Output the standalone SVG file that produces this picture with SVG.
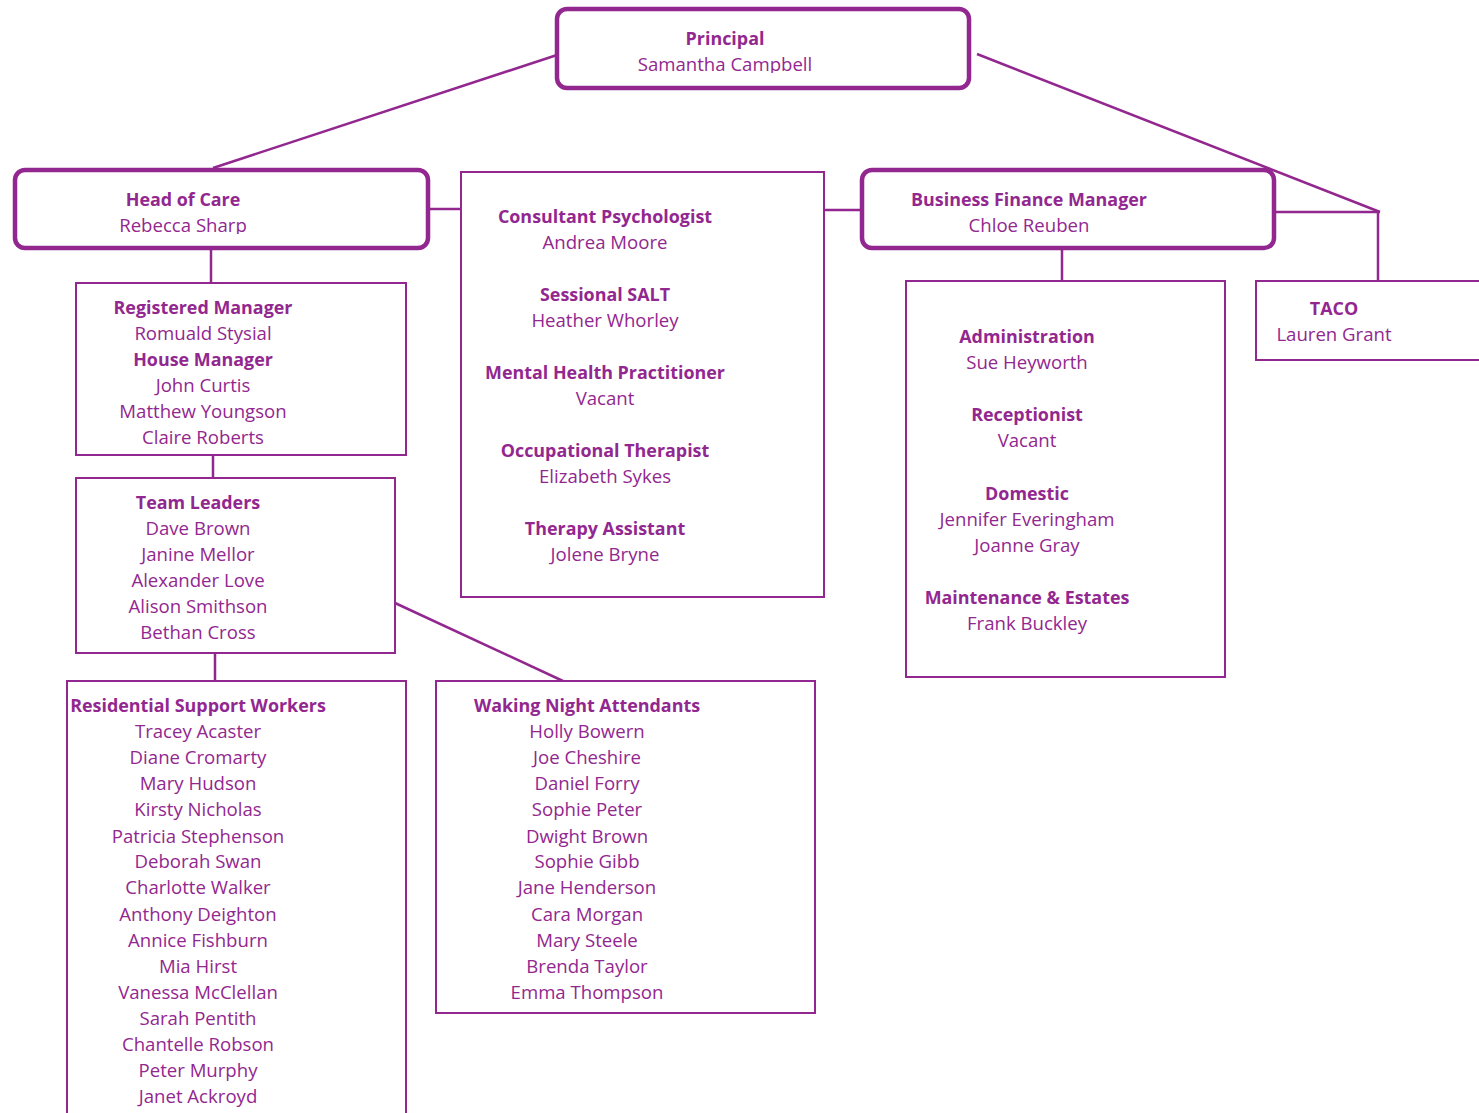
<svg xmlns="http://www.w3.org/2000/svg" width="1479" height="1113" viewBox="0 0 1479 1113">
<style>
.t{font-family:"Open Sans","DejaVu Sans",sans-serif;font-size:18.6px;fill:#92278F;text-anchor:middle}
.b{font-weight:bold;font-size:17.9px}
.thick{fill:#fff;stroke:#92278F;stroke-width:4.5}
.thin{fill:#fff;stroke:#92278F;stroke-width:2}
.c{stroke:#92278F;stroke-width:2.5;fill:none}
</style>
<defs>
<clipPath id="cp1"><rect x="557" y="0" width="412" height="73"/></clipPath>
<clipPath id="cp2"><rect x="15" y="160" width="413" height="74"/></clipPath>
</defs>
<rect width="1479" height="1113" fill="#fff"/>
<g id="connectors">
<line class="c" x1="557" y1="55" x2="213" y2="168"/>
<polyline class="c" points="977,54 1380,212"/>
<line class="c" x1="1274" y1="212" x2="1380" y2="212"/>
<line class="c" x1="1378" y1="212" x2="1378" y2="281"/>
<line class="c" x1="428" y1="209" x2="461" y2="209"/>
<line class="c" x1="824" y1="210" x2="862" y2="210"/>
<line class="c" x1="211" y1="248" x2="211" y2="283"/>
<line class="c" x1="213" y1="455" x2="213" y2="478"/>
<line class="c" x1="215" y1="653" x2="215" y2="681"/>
<line class="c" x1="395" y1="603" x2="563" y2="681"/>
<line class="c" x1="1062" y1="248" x2="1062" y2="281"/>
</g>
<g id="principal">
<rect class="thick" x="557" y="9" width="412" height="79" rx="10"/>
<g clip-path="url(#cp1)">
<text class="t b" x="725" y="45">Principal</text>
<text class="t" x="725" y="71">Samantha Campbell</text>
</g>
</g>
<g id="head-of-care">
<rect class="thick" x="15" y="170" width="413" height="78" rx="10"/>
<g clip-path="url(#cp2)">
<text class="t b" x="183" y="206">Head of Care</text>
<text class="t" x="183" y="232">Rebecca Sharp</text>
</g>
</g>
<g id="business-finance-manager">
<rect class="thick" x="862" y="170" width="412" height="78" rx="10"/>
<text class="t b" x="1029" y="206">Business Finance Manager</text>
<text class="t" x="1029" y="232">Chloe Reuben</text>
</g>
<g id="therapy">
<rect class="thin" x="461" y="172" width="363" height="425"/>
<text class="t b" x="605" y="223">Consultant Psychologist</text>
<text class="t" x="605" y="249">Andrea Moore</text>
<text class="t b" x="605" y="301">Sessional SALT</text>
<text class="t" x="605" y="327">Heather Whorley</text>
<text class="t b" x="605" y="379">Mental Health Practitioner</text>
<text class="t" x="605" y="405">Vacant</text>
<text class="t b" x="605" y="457">Occupational Therapist</text>
<text class="t" x="605" y="483">Elizabeth Sykes</text>
<text class="t b" x="605" y="535">Therapy Assistant</text>
<text class="t" x="605" y="561">Jolene Bryne</text>
</g>
<g id="registered-manager">
<rect class="thin" x="76" y="283" width="330" height="172"/>
<text class="t b" x="203" y="314">Registered Manager</text>
<text class="t" x="203" y="340">Romuald Stysial</text>
<text class="t b" x="203" y="366">House Manager</text>
<text class="t" x="203" y="392">John Curtis</text>
<text class="t" x="203" y="418">Matthew Youngson</text>
<text class="t" x="203" y="444">Claire Roberts</text>
</g>
<g id="team-leaders">
<rect class="thin" x="76" y="478" width="319" height="175"/>
<text class="t b" x="198" y="509">Team Leaders</text>
<text class="t" x="198" y="535">Dave Brown</text>
<text class="t" x="198" y="561">Janine Mellor</text>
<text class="t" x="198" y="587">Alexander Love</text>
<text class="t" x="198" y="613">Alison Smithson</text>
<text class="t" x="198" y="639">Bethan Cross</text>
</g>
<g id="residential-support-workers">
<rect class="thin" x="67" y="681" width="339" height="440"/>
<text class="t b" x="198" y="712">Residential Support Workers</text>
<text class="t" x="198" y="738">Tracey Acaster</text>
<text class="t" x="198" y="764">Diane Cromarty</text>
<text class="t" x="198" y="790">Mary Hudson</text>
<text class="t" x="198" y="816">Kirsty Nicholas</text>
<text class="t" x="198" y="843">Patricia Stephenson</text>
<text class="t" x="198" y="868">Deborah Swan</text>
<text class="t" x="198" y="894">Charlotte Walker</text>
<text class="t" x="198" y="921">Anthony Deighton</text>
<text class="t" x="198" y="947">Annice Fishburn</text>
<text class="t" x="198" y="973">Mia Hirst</text>
<text class="t" x="198" y="999">Vanessa McClellan</text>
<text class="t" x="198" y="1025">Sarah Pentith</text>
<text class="t" x="198" y="1051">Chantelle Robson</text>
<text class="t" x="198" y="1077">Peter Murphy</text>
<text class="t" x="198" y="1103">Janet Ackroyd</text>
</g>
<g id="waking-night-attendants">
<rect class="thin" x="436" y="681" width="379" height="332"/>
<text class="t b" x="587" y="712">Waking Night Attendants</text>
<text class="t" x="587" y="738">Holly Bowern</text>
<text class="t" x="587" y="764">Joe Cheshire</text>
<text class="t" x="587" y="790">Daniel Forry</text>
<text class="t" x="587" y="816">Sophie Peter</text>
<text class="t" x="587" y="843">Dwight Brown</text>
<text class="t" x="587" y="868">Sophie Gibb</text>
<text class="t" x="587" y="894">Jane Henderson</text>
<text class="t" x="587" y="921">Cara Morgan</text>
<text class="t" x="587" y="947">Mary Steele</text>
<text class="t" x="587" y="973">Brenda Taylor</text>
<text class="t" x="587" y="999">Emma Thompson</text>
</g>
<g id="administration">
<rect class="thin" x="906" y="281" width="319" height="396"/>
<text class="t b" x="1027" y="343">Administration</text>
<text class="t" x="1027" y="369">Sue Heyworth</text>
<text class="t b" x="1027" y="421">Receptionist</text>
<text class="t" x="1027" y="447">Vacant</text>
<text class="t b" x="1027" y="500">Domestic</text>
<text class="t" x="1027" y="526">Jennifer Everingham</text>
<text class="t" x="1027" y="552">Joanne Gray</text>
<text class="t b" x="1027" y="604">Maintenance &amp; Estates</text>
<text class="t" x="1027" y="630">Frank Buckley</text>
</g>
<g id="taco">
<rect class="thin" x="1256" y="281" width="240" height="79"/>
<text class="t b" x="1334" y="315">TACO</text>
<text class="t" x="1334" y="341">Lauren Grant</text>
</g>
</svg>
